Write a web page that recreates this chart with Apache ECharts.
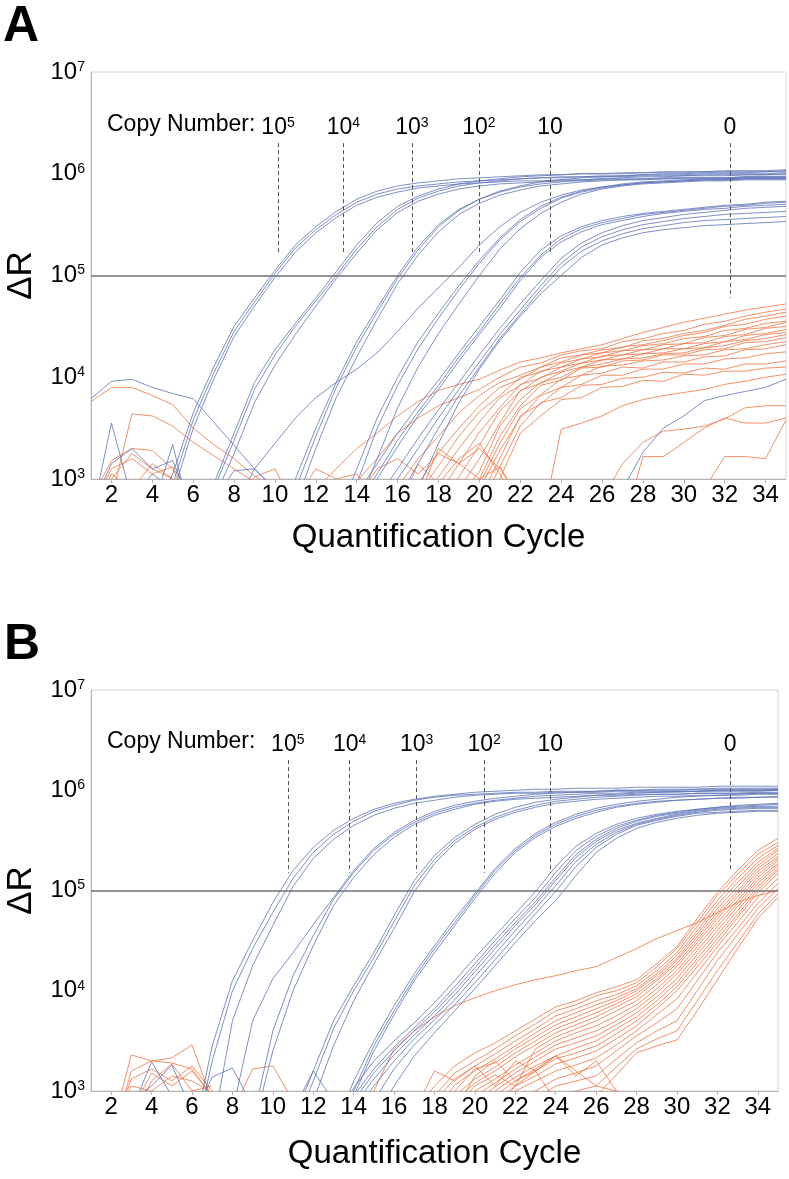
<!DOCTYPE html>
<html>
<head>
<meta charset="utf-8">
<script src="https://cdn.jsdelivr.net/npm/echarts@6/dist/echarts.min.js"></script>
<style>
html,body{margin:0;padding:0;background:#fff;}
#chart{width:789px;height:1179px;}
</style>
</head>
<body>
<div id="chart"></div>
<script>
var cycleTicks = [2,4,6,8,10,12,14,16,18,20,22,24,26,28,30,32,34];
var decadeTicks = [1e3,1e4,1e5,1e6,1e7];
var threshold = 1e5;

// copy number markers: label, cycle, top and bottom of the dashed line
var copyLabels = ['10{s|5}','10{s|4}','10{s|3}','10{s|2}','10','0'];
var aMarkCycles = [10.15, 13.35, 16.7, 19.98, 23.46, 32.25];
var aMarkBottom = [1.7e5, 1.7e5, 1.7e5, 1.7e5, 1.7e5, 6.0e4];
var bMarkCycles = [10.74, 13.8, 17.12, 20.46, 23.73, 32.63];
var bMarkBottom = [1.5e5, 1.5e5, 1.5e5, 1.5e5, 1.5e5, 1.6e5];
var markTop = 2.0e6;

// every curve: [first cycle, log10(ΔR) for that cycle and the ones after it]
// ---- panel A, standards (blue)
var aBlue1e5 = [
  [4, [2.6,3.05,3.65,4.1,4.5,4.78,5.05,5.3,5.48,5.63,5.75,5.83,5.88,5.91,5.93,5.95,5.96,5.97,5.98,5.99,5.99,6.0,6.0,6.0,6.01,6.01,6.01,6.02,6.02,6.02,6.02,6.03]],
  [4, [2.5,2.95,3.58,4.04,4.45,4.74,5.02,5.27,5.45,5.6,5.72,5.8,5.85,5.88,5.9,5.92,5.93,5.94,5.95,5.96,5.96,5.97,5.97,5.97,5.98,5.98,5.98,5.99,5.99,5.99,5.99,6.0]],
  [4, [2.4,2.85,3.5,3.98,4.4,4.7,4.98,5.23,5.42,5.57,5.69,5.77,5.82,5.86,5.88,5.9,5.91,5.92,5.93,5.93,5.94,5.94,5.95,5.95,5.95,5.96,5.96,5.96,5.96,5.97,5.97,5.97]]
];
var aBlue1e4 = [
  [6, [2.5,2.95,3.45,3.95,4.27,4.53,4.78,5.04,5.3,5.52,5.68,5.78,5.85,5.9,5.93,5.95,5.97,5.98,5.99,6.0,6.0,6.01,6.01,6.02,6.02,6.02,6.03,6.03,6.03,6.04]],
  [6, [2.4,2.9,3.38,3.88,4.22,4.5,4.75,5.0,5.26,5.48,5.65,5.76,5.83,5.88,5.91,5.93,5.95,5.96,5.97,5.97,5.98,5.98,5.99,5.99,5.99,6.0,6.0,6.0,6.0,6.01]],
  [7, [2.8,3.25,3.75,4.12,4.42,4.7,4.97,5.22,5.45,5.62,5.73,5.8,5.85,5.88,5.9,5.91,5.92,5.93,5.93,5.94,5.94,5.94,5.95,5.95,5.95,5.95,5.96,5.96,5.96]]
];
var aBlue1e3 = [
  [10, [2.6,3.0,3.5,3.95,4.35,4.68,5.0,5.28,5.5,5.65,5.75,5.82,5.87,5.9,5.92,5.94,5.95,5.96,5.97,5.97,5.98,5.98,5.98,5.99,5.99,5.99]],
  [10, [2.5,2.9,3.42,3.9,4.3,4.64,4.97,5.25,5.48,5.64,5.75,5.83,5.88,5.92,5.94,5.96,5.97,5.98,5.99,6.0,6.0,6.01,6.01,6.01,6.02,6.02]],
  [11, [2.75,3.3,3.8,4.2,4.57,4.92,5.2,5.43,5.6,5.71,5.79,5.84,5.88,5.9,5.92,5.93,5.94,5.95,5.95,5.96,5.96,5.96,5.97,5.97,5.97]]
];
var aBlue1e2 = [
  [8, [2.7,3.1,3.35,3.6,3.8,3.95,4.08,4.24,4.45,4.68,4.88,5.08,5.3,5.48,5.62,5.72,5.79,5.84,5.87,5.89,5.91,5.92,5.93,5.94,5.94,5.95,5.95,5.95]],
  [13, [2.6,3.1,3.6,4.0,4.35,4.63,4.9,5.15,5.37,5.55,5.68,5.77,5.83,5.87,5.9,5.92,5.93,5.94,5.95,5.95,5.96,5.96,5.96]],
  [13, [2.5,2.95,3.5,3.92,4.28,4.58,4.86,5.12,5.35,5.53,5.66,5.76,5.82,5.86,5.89,5.91,5.92,5.93,5.94,5.94,5.95,5.95,5.95]],
  [14, [2.7,3.2,3.7,4.1,4.43,4.72,5.0,5.26,5.46,5.61,5.72,5.8,5.85,5.88,5.9,5.91,5.92,5.93,5.93,5.94,5.94,5.94]]
];
var aBlue10 = [
  [14, [2.85,3.15,3.45,3.72,3.97,4.24,4.5,4.76,5.03,5.25,5.39,5.48,5.54,5.58,5.61,5.63,5.65,5.67,5.69,5.7,5.72,5.73]],
  [14, [2.75,3.05,3.38,3.66,3.92,4.2,4.45,4.72,4.98,5.2,5.36,5.46,5.52,5.56,5.6,5.62,5.64,5.66,5.68,5.69,5.71,5.72]],
  [14, [2.7,3.0,3.32,3.62,3.88,4.16,4.42,4.68,4.95,5.18,5.33,5.43,5.5,5.54,5.58,5.61,5.63,5.65,5.66,5.68,5.69,5.7]],
  [15, [2.8,3.1,3.4,3.68,3.95,4.22,4.48,4.72,4.95,5.17,5.32,5.42,5.49,5.54,5.57,5.6,5.62,5.64,5.66,5.67,5.68]],
  [15, [2.7,3.0,3.3,3.6,3.88,4.15,4.42,4.66,4.9,5.12,5.28,5.38,5.45,5.5,5.53,5.56,5.58,5.6,5.61,5.62,5.63]],
  [16, [2.8,3.15,3.5,3.82,4.1,4.38,4.62,4.86,5.08,5.24,5.34,5.41,5.46,5.49,5.52,5.54,5.55,5.56,5.57,5.58]],
  [17, [2.9,3.35,3.75,4.08,4.36,4.6,4.82,5.0,5.18,5.3,5.37,5.42,5.45,5.47,5.49,5.5,5.51,5.52,5.53]]
];
var aBlueOther = [
  [1, [3.79,3.96,3.98,3.9,3.84,3.79,3.56,3.33,3.1,2.9]],
  [27, [2.9,3.26,3.5,3.62,3.77,3.82,3.86,3.9,3.98]],
  [1, [2.6,3.55,2.8,3.05,2.9,2.6]],
  [1, [2.7,3.15,3.3,3.1,3.18,2.7]],
  [4, [2.7,3.34,2.5]],
  [7, [2.8,3.08,3.1,2.9]]
];
// ---- panel A, no template controls (orange)
var aOrange = [
  [12, [2.9,3.1,3.3,3.45,3.62,3.76,3.87,3.93,3.98,4.07,4.15,4.19,4.24,4.28,4.32,4.38,4.44,4.49,4.54,4.58,4.62,4.66,4.69,4.72]],
  [13, [2.8,2.98,3.2,3.45,3.6,3.72,3.8,3.88,4.0,4.1,4.14,4.22,4.26,4.28,4.35,4.38,4.43,4.46,4.52,4.55,4.6,4.64,4.67]],
  [15, [2.8,2.92,3.2,3.42,3.65,3.82,3.95,4.02,4.1,4.19,4.22,4.27,4.29,4.36,4.38,4.43,4.46,4.51,4.57,4.6,4.64]],
  [16, [2.8,2.95,3.26,3.5,3.72,3.9,3.98,4.1,4.15,4.22,4.24,4.3,4.32,4.36,4.41,4.44,4.5,4.52,4.57,4.6]],
  [16, [2.7,2.85,3.13,3.42,3.66,3.82,4.0,4.05,4.14,4.18,4.24,4.26,4.31,4.33,4.38,4.4,4.46,4.48,4.53,4.55]],
  [17, [2.75,3.02,3.3,3.56,3.8,3.92,4.06,4.1,4.18,4.2,4.26,4.27,4.32,4.33,4.39,4.41,4.47,4.49,4.54]],
  [17, [2.7,2.85,3.15,3.46,3.7,3.93,3.99,4.1,4.14,4.21,4.22,4.27,4.28,4.33,4.34,4.4,4.42,4.48,4.5]],
  [18, [2.75,3.02,3.33,3.67,3.86,4.0,4.06,4.14,4.17,4.22,4.23,4.28,4.28,4.33,4.35,4.41,4.43,4.47]],
  [18, [2.6,2.9,3.2,3.55,3.87,3.94,4.05,4.1,4.17,4.18,4.23,4.24,4.28,4.29,4.35,4.37,4.42,4.44]],
  [18, [2.8,2.85,3.07,3.52,3.78,3.95,4.0,4.1,4.13,4.18,4.19,4.23,4.24,4.29,4.31,4.36,4.38,4.42]],
  [19, [2.75,3.0,3.42,3.72,3.92,3.97,4.09,4.1,4.16,4.17,4.22,4.22,4.27,4.28,4.34,4.35,4.39]],
  [19, [2.65,2.95,3.35,3.69,3.83,3.98,4.02,4.11,4.12,4.16,4.17,4.21,4.22,4.27,4.28,4.32,4.35]],
  [19, [2.7,2.9,3.28,3.6,3.82,3.9,4.02,4.04,4.1,4.09,4.15,4.15,4.2,4.21,4.27,4.28,4.32]],
  [20, [2.8,3.2,3.62,3.74,3.9,3.93,4.02,4.02,4.08,4.08,4.13,4.13,4.18,4.19,4.23,4.25]],
  [20, [2.7,3.12,3.52,3.75,3.8,3.92,3.93,3.99,4.0,4.05,4.04,4.09,4.08,4.13,4.13,4.16]],
  [20, [2.6,3.0,3.45,3.62,3.78,3.8,3.9,3.91,3.97,3.96,4.03,4.02,4.06,4.06,4.09,4.1]]
];
var aOrangeOther = [
  [1, [3.76,3.9,3.9,3.82,3.73,3.5,3.34,3.2,3.03,2.9]],
  [2, [2.8,3.64,3.62,3.52,3.36,3.23,3.1,2.97,2.8]],
  [1, [2.8,3.18,3.3,3.28,3.1,2.7]],
  [1, [2.7,3.1,3.2,3.05,3.12,2.8]],
  [2, [3.0,3.25,3.1,3.0,2.7]],
  [1, [2.6,3.05,2.9,3.15,3.0,2.6]],
  [8, [2.8,3.02,3.1,2.7]],
  [11, [2.8,3.1,3.0,3.05,2.8]],
  [14, [2.8,3.1,3.2,3.05,3.25,3.15,3.3,3.1,2.8]],
  [16, [2.7,3.15,2.95,3.2,3.35,3.05,2.7]],
  [17, [2.8,3.3,3.15,3.0,3.12,2.8]],
  [23, [2.5,3.49,3.55,3.62,3.72,3.78,3.82,3.85,3.88,3.93,3.96,4.0,4.03]],
  [26, [2.8,3.15,3.36,3.47,3.49,3.52,3.59,3.7,3.72,3.72]],
  [27, [2.5,3.22,3.22,3.36,3.5,3.6,3.55,3.55,3.6]],
  [30, [2.4,2.9,3.22,3.22,3.2,3.58]]
];

// ---- panel B, standards (blue)
var bBlue1e5 = [
  [6, [2.5,3.45,4.1,4.5,4.88,5.2,5.43,5.6,5.72,5.81,5.87,5.91,5.94,5.96,5.98,5.99,6.0,6.01,6.01,6.02,6.02,6.02,6.03,6.03,6.03,6.03,6.04,6.04,6.04,6.04]],
  [6, [2.4,3.3,4.0,4.42,4.78,5.12,5.38,5.56,5.69,5.79,5.85,5.9,5.93,5.95,5.96,5.97,5.98,5.98,5.99,5.99,5.99,6.0,6.0,6.0,6.0,6.01,6.01,6.01,6.01,6.01]],
  [7, [2.6,3.7,4.25,4.65,5.04,5.32,5.51,5.65,5.75,5.82,5.87,5.9,5.93,5.95,5.96,5.97,5.97,5.98,5.98,5.98,5.99,5.99,5.99,5.99,5.99,6.0,6.0,6.0,6.0]]
];
var bBlue1e4 = [
  [8, [2.8,3.7,4.12,4.38,4.66,4.93,5.2,5.42,5.58,5.7,5.79,5.85,5.89,5.92,5.94,5.96,5.97,5.98,5.99,6.0,6.0,6.01,6.01,6.01,6.02,6.02,6.02,6.02]],
  [9, [2.7,3.6,4.15,4.55,4.91,5.18,5.4,5.56,5.68,5.77,5.83,5.87,5.9,5.92,5.94,5.95,5.96,5.97,5.97,5.98,5.98,5.98,5.99,5.99,5.99,5.99,6.0]],
  [9, [2.6,3.4,4.0,4.45,4.85,5.13,5.36,5.53,5.66,5.75,5.81,5.86,5.89,5.91,5.92,5.93,5.94,5.95,5.95,5.96,5.96,5.96,5.97,5.97,5.97,5.97,5.97]]
];
var bBlue1e3 = [
  [11, [2.7,3.2,3.7,4.05,4.38,4.75,5.1,5.35,5.53,5.66,5.76,5.83,5.88,5.91,5.93,5.95,5.96,5.97,5.98,5.99,5.99,6.0,6.0,6.0,6.01]],
  [11, [2.6,3.1,3.62,4.0,4.33,4.69,5.05,5.31,5.5,5.63,5.73,5.8,5.85,5.89,5.91,5.93,5.94,5.95,5.96,5.96,5.97,5.97,5.97,5.98,5.98]],
  [12, [2.9,3.45,3.9,4.27,4.62,4.99,5.27,5.47,5.61,5.71,5.78,5.83,5.87,5.89,5.91,5.92,5.93,5.94,5.94,5.95,5.95,5.95,5.96,5.96]]
];
var bBlue1e2 = [
  [13, [2.6,3.1,3.5,3.85,4.17,4.45,4.72,4.97,5.22,5.42,5.57,5.68,5.76,5.82,5.86,5.89,5.91,5.93,5.94,5.95,5.96,5.97,5.97]],
  [13, [2.5,3.0,3.45,3.8,4.13,4.42,4.68,4.95,5.2,5.4,5.55,5.66,5.74,5.8,5.84,5.87,5.89,5.9,5.91,5.92,5.93,5.93,5.94]],
  [14, [2.95,3.4,3.76,4.1,4.38,4.65,4.92,5.17,5.38,5.53,5.64,5.72,5.78,5.83,5.86,5.88,5.9,5.91,5.92,5.92,5.93,5.93]]
];
var bBlue10 = [
  [13, [2.7,3.03,3.3,3.5,3.68,3.88,4.1,4.33,4.55,4.77,4.99,5.24,5.44,5.57,5.66,5.72,5.76,5.79,5.81,5.83,5.85,5.86,5.87]],
  [13, [2.65,2.95,3.22,3.44,3.63,3.82,4.04,4.27,4.5,4.72,4.93,5.18,5.4,5.54,5.64,5.7,5.75,5.78,5.81,5.83,5.84,5.85,5.86]],
  [14, [2.9,3.18,3.4,3.6,3.79,4.0,4.23,4.46,4.68,4.89,5.13,5.36,5.51,5.62,5.69,5.74,5.77,5.8,5.82,5.83,5.84,5.84]],
  [14, [2.85,3.12,3.36,3.56,3.75,3.96,4.19,4.42,4.65,4.86,5.1,5.33,5.49,5.6,5.67,5.72,5.76,5.79,5.81,5.82,5.83,5.83]],
  [14, [2.75,3.05,3.3,3.52,3.71,3.91,4.14,4.37,4.6,4.82,5.05,5.29,5.46,5.58,5.66,5.71,5.75,5.78,5.8,5.81,5.82,5.82]],
  [15, [2.9,3.22,3.46,3.66,3.86,4.08,4.31,4.54,4.77,4.99,5.24,5.43,5.56,5.65,5.7,5.74,5.77,5.78,5.79,5.8,5.8]],
  [15, [2.7,3.05,3.35,3.58,3.8,4.02,4.25,4.48,4.7,4.9,5.15,5.38,5.52,5.62,5.68,5.72,5.75,5.77,5.78,5.79,5.79]]
];
var bBlueOther = [
  [3, [2.8,3.29,2.95,2.7]],
  [3, [2.9,3.05,3.26,2.8]],
  [6, [2.7,3.14,3.23,2.85,2.6]],
  [11, [2.8,3.2,2.9]]
];
// ---- panel B, no template controls (orange)
var bOrange = [
  [17, [2.8,3.05,3.25,3.38,3.48,3.6,3.72,3.84,3.9,3.98,4.04,4.11,4.27,4.44,4.72,4.98,5.2,5.4,5.52]],
  [17, [2.7,2.95,3.18,3.3,3.42,3.55,3.67,3.8,3.86,3.95,4.0,4.08,4.24,4.42,4.68,4.95,5.16,5.36,5.48]],
  [18, [2.9,3.12,3.25,3.37,3.5,3.62,3.75,3.82,3.9,3.96,4.05,4.2,4.38,4.64,4.9,5.12,5.32,5.45]],
  [18, [2.8,3.06,3.2,3.32,3.45,3.58,3.7,3.78,3.86,3.93,4.02,4.17,4.35,4.6,4.86,5.08,5.28,5.42]],
  [18, [2.7,3.0,3.22,3.28,3.42,3.54,3.66,3.74,3.82,3.9,4.0,4.15,4.32,4.57,4.82,5.04,5.25,5.4]],
  [19, [2.95,3.12,3.24,3.38,3.5,3.62,3.7,3.78,3.87,3.97,4.12,4.3,4.54,4.78,5.0,5.22,5.37]],
  [19, [2.9,3.08,3.2,3.34,3.46,3.58,3.66,3.74,3.84,3.94,4.1,4.27,4.51,4.75,4.97,5.19,5.34]],
  [19, [2.85,3.05,3.16,3.05,3.42,3.54,3.62,3.7,3.8,3.9,4.06,4.24,4.48,4.72,4.94,5.16,5.32]],
  [19, [2.8,3.0,3.12,3.26,3.38,3.5,3.58,3.65,3.75,3.86,4.02,4.2,4.44,4.68,4.9,5.13,5.3]],
  [20, [2.95,3.08,3.22,3.34,3.46,3.53,3.6,3.7,3.82,3.98,4.17,4.4,4.64,4.87,5.1,5.27]],
  [20, [2.9,3.04,3.18,3.3,3.42,3.48,3.55,3.66,3.78,3.94,4.12,4.36,4.6,4.84,5.07,5.25]],
  [20, [2.85,3.0,3.14,3.25,3.35,3.43,3.5,3.62,3.74,3.9,4.08,4.32,4.56,4.8,5.04,5.22]],
  [21, [2.95,3.1,3.2,3.32,3.38,3.45,3.57,3.7,3.86,4.04,4.28,4.52,4.76,5.01,5.2]],
  [21, [2.9,3.05,3.15,3.27,3.33,3.4,3.52,3.65,3.82,4.0,4.24,4.48,4.73,4.98,5.17]],
  [21, [2.85,3.0,3.1,3.2,3.26,3.33,3.46,3.6,3.76,3.92,4.18,4.44,4.68,4.93,5.12]],
  [22, [2.9,3.0,3.12,3.18,3.25,3.4,3.55,3.68,3.82,4.1,4.38,4.62,4.87,5.07]],
  [22, [2.8,2.92,3.05,3.1,3.15,3.32,3.48,3.6,3.7,4.0,4.3,4.56,4.82,5.02]],
  [23, [2.82,2.95,3.0,3.05,3.24,3.42,3.52,3.6,3.9,4.2,4.48,4.76,4.97]],
  [23, [2.72,2.85,2.9,2.95,3.16,3.38,3.45,3.51,3.8,4.11,4.42,4.72,4.93]],
  [14, [2.6,3.0,3.42,3.6,3.74,3.85,3.93,4.0,4.06,4.11,4.15,4.2,4.24,4.33,4.42,4.52,4.6,4.68,4.78,4.88,4.95,5.0]]
];
var bOrangeOther = [
  [2, [2.6,3.36,3.3,3.33,3.46,2.9]],
  [2, [2.5,3.2,3.3,3.28,3.22,2.95]],
  [2, [2.6,3.12,3.22,3.1,3.25,3.0]],
  [2, [2.7,3.05,3.0,3.15,3.1,2.98]],
  [3, [2.8,3.18,3.05,3.2,2.95]],
  [3, [2.7,3.1,3.27,3.0,3.05]],
  [8, [2.8,3.22,3.25,2.9]],
  [17, [2.8,3.2,3.1,3.25,3.05,3.3,3.2,2.9]],
  [19, [2.8,3.15,3.3,3.1,3.22,3.35,3.15,3.3,3.0]],
  [21, [2.8,3.05,3.2,3.35,3.2,3.05,3.0,2.9]]
];

var BLUE = '#5a72b8';
var ORANGE = '#f0723f';
var FONT = '"Liberation Sans", Arial, sans-serif';
var NARROW = '"Liberation Sans Narrow", "Arial Narrow", "Liberation Sans", sans-serif';

function toPoints(curve) {
  var from = curve[0], lg = curve[1], pts = [];
  for (var i = 0; i < lg.length; i++) {
    pts.push([from + i, Math.pow(10, lg[i])]);
  }
  return pts;
}

var series = [];
function addCurves(curves, color, idx) {
  curves.forEach(function(c) {
    series.push({
      type: 'line',
      xAxisIndex: idx,
      yAxisIndex: idx,
      data: toPoints(c),
      symbol: 'none',
      silent: true,
      clip: true,
      lineStyle: {color: color, width: 0.9, opacity: 0.88}
    });
  });
}

addCurves(aOrange, ORANGE, 0);
addCurves(aOrangeOther, ORANGE, 0);
addCurves(aBlue1e5.concat(aBlue1e4, aBlue1e3, aBlue1e2, aBlue10, aBlueOther), BLUE, 0);
addCurves(bOrange, ORANGE, 1);
addCurves(bOrangeOther, ORANGE, 1);
addCurves(bBlue1e5.concat(bBlue1e4, bBlue1e3, bBlue1e2, bBlue10, bBlueOther), BLUE, 1);

// threshold + copy-number markers
function markSeries(idx, cycles, bottoms) {
  var lines = [];
  for (var i = 0; i < cycles.length; i++) {
    lines.push([
      {coord: [cycles[i], markTop], label: {formatter: copyLabels[i]}},
      {coord: [cycles[i], bottoms[i]]}
    ]);
  }
  return {
    type: 'line',
    xAxisIndex: idx,
    yAxisIndex: idx,
    data: [],
    z: 10,
    markLine: {
      silent: true,
      symbol: 'none',
      animation: false,
      data: [
        {yAxis: threshold, lineStyle: {color: '#707070', width: 1.6, type: 'solid'}, label: {show: false}}
      ].concat(lines),
      lineStyle: {color: '#555', width: 1, type: [4, 3]},
      label: {
        show: true,
        position: 'start',
        distance: 3,
        color: '#000',
        fontFamily: FONT,
        rich: {
          s: {fontSize: 14, verticalAlign: 'top', lineHeight: 24, fontFamily: FONT}
        },
        fontSize: 23,
        lineHeight: 24
      }
    }
  };
}
series.push(markSeries(0, aMarkCycles, aMarkBottom));
series.push(markSeries(1, bMarkCycles, bMarkBottom));

function xAxisFor(idx, gap) {
  return {
    type: 'value',
    gridIndex: idx,
    min: 1,
    max: 35,
    axisLine: {lineStyle: {color: '#b4b4b4'}},
    axisTick: {customValues: cycleTicks, length: 4, lineStyle: {color: '#b4b4b4'}},
    axisLabel: {customValues: cycleTicks, color: '#000', fontSize: 24, fontFamily: NARROW, margin: 4},
    splitLine: {show: false},
    name: 'Quantification Cycle',
    nameLocation: 'middle',
    nameGap: gap,
    nameTextStyle: {color: '#000', fontSize: 33, fontFamily: FONT}
  };
}
function yAxisFor(idx) {
  return {
    type: 'log',
    logBase: 10,
    gridIndex: idx,
    min: 1e3,
    max: 1e7,
    axisLine: {show: true, lineStyle: {color: '#b4b4b4'}},
    axisTick: {show: false},
    axisLabel: {
      customValues: decadeTicks,
      margin: 6,
      color: '#000',
      formatter: function(v) {
        return '{b|10}{s|' + Math.round(Math.log10(v)) + '}';
      },
      rich: {
        b: {fontSize: 24, lineHeight: 24, fontFamily: NARROW, color: '#000'},
        s: {fontSize: 14, lineHeight: 24, verticalAlign: 'top', fontFamily: NARROW, color: '#000'}
      }
    },
    splitLine: {show: false},
    name: 'ΔR',
    nameLocation: 'middle',
    nameRotate: 90,
    nameGap: 52,
    nameTextStyle: {color: '#000', fontSize: 35, fontFamily: FONT}
  };
}

var chart = echarts.init(document.getElementById('chart'));
chart.setOption({
  animation: false,
  backgroundColor: '#fff',
  grid: [
    {left: 91, top: 72, width: 695, height: 407, show: true, borderColor: '#d6d6d6', borderWidth: 1, containLabel: false, outerBoundsMode: 'none'},
    {left: 91, top: 690, width: 687, height: 401, show: true, borderColor: '#d6d6d6', borderWidth: 1, containLabel: false, outerBoundsMode: 'none'}
  ],
  xAxis: [xAxisFor(0, 42), xAxisFor(1, 46)],
  yAxis: [yAxisFor(0), yAxisFor(1)],
  graphic: [
    {type: 'text', left: 3, top: 2, style: {text: 'A', font: 'bold 50px ' + FONT, fill: '#000'}},
    {type: 'text', left: 4, top: 620, style: {text: 'B', font: 'bold 50px ' + FONT, fill: '#000'}},
    {type: 'text', left: 107, top: 113, style: {text: 'Copy Number:', font: '23px ' + FONT, fill: '#000'}},
    {type: 'text', left: 107, top: 730, style: {text: 'Copy Number:', font: '23px ' + FONT, fill: '#000'}}
  ],
  series: series
});
</script>
</body>
</html>
